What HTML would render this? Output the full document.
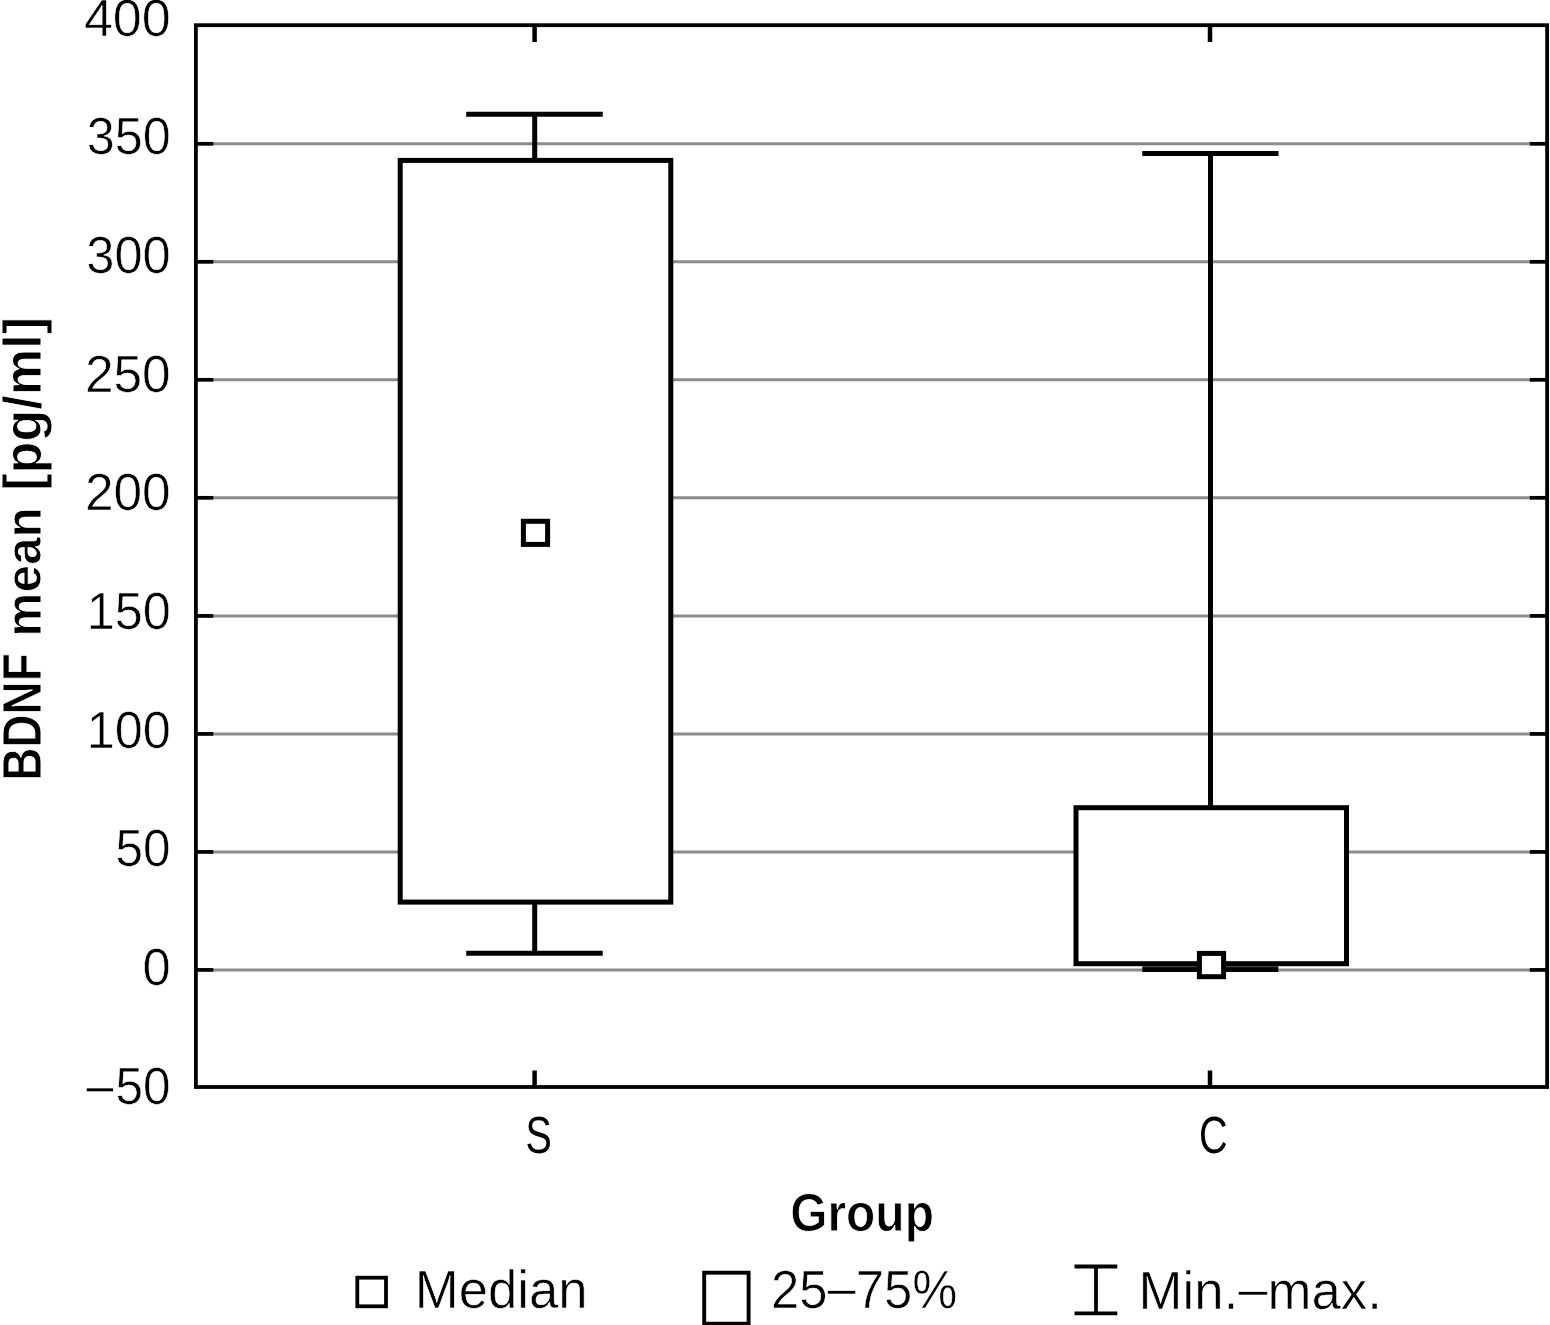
<!DOCTYPE html>
<html>
<head>
<meta charset="utf-8">
<style>
html,body{margin:0;padding:0;background:#fff;}
body{width:1550px;height:1325px;overflow:hidden;}
svg{display:block;}
text{font-family:"Liberation Sans",sans-serif;fill:#000;stroke:#fff;stroke-width:0.6px;}
text.b{font-weight:bold;stroke-width:0.9px;}
text[stroke="none"]{stroke:none;}
</style>
</head>
<body>
<svg width="1550" height="1325" viewBox="0 0 1550 1325">
<rect x="0" y="0" width="1550" height="1325" fill="#fff"/>
<!-- gridlines -->
<g stroke="#8c8c8c" stroke-width="3" fill="none">
<line x1="196" y1="143.8" x2="1547" y2="143.8"/>
<line x1="196" y1="261.8" x2="1547" y2="261.8"/>
<line x1="196" y1="379.8" x2="1547" y2="379.8"/>
<line x1="196" y1="497.8" x2="1547" y2="497.8"/>
<line x1="196" y1="615.9" x2="1547" y2="615.9"/>
<line x1="196" y1="733.9" x2="1547" y2="733.9"/>
<line x1="196" y1="851.9" x2="1547" y2="851.9"/>
<line x1="196" y1="969.9" x2="1547" y2="969.9"/>
</g>
<!-- ticks -->
<g stroke="#000" stroke-width="3.7" fill="none">
<line x1="196" y1="143.8" x2="213.3" y2="143.8"/>
<line x1="196" y1="261.8" x2="213.3" y2="261.8"/>
<line x1="196" y1="379.8" x2="213.3" y2="379.8"/>
<line x1="196" y1="497.8" x2="213.3" y2="497.8"/>
<line x1="196" y1="615.9" x2="213.3" y2="615.9"/>
<line x1="196" y1="733.9" x2="213.3" y2="733.9"/>
<line x1="196" y1="851.9" x2="213.3" y2="851.9"/>
<line x1="196" y1="969.9" x2="213.3" y2="969.9"/>
<line x1="1529.8" y1="143.8" x2="1547" y2="143.8"/>
<line x1="1529.8" y1="261.8" x2="1547" y2="261.8"/>
<line x1="1529.8" y1="379.8" x2="1547" y2="379.8"/>
<line x1="1529.8" y1="497.8" x2="1547" y2="497.8"/>
<line x1="1529.8" y1="615.9" x2="1547" y2="615.9"/>
<line x1="1529.8" y1="733.9" x2="1547" y2="733.9"/>
<line x1="1529.8" y1="851.9" x2="1547" y2="851.9"/>
<line x1="1529.8" y1="969.9" x2="1547" y2="969.9"/>
</g>
<g stroke="#000" stroke-width="4.5" fill="none">
<line x1="534.6" y1="25" x2="534.6" y2="42"/>
<line x1="1210" y1="25" x2="1210" y2="42"/>
<line x1="534.6" y1="1087" x2="534.6" y2="1070.5"/>
<line x1="1210" y1="1087" x2="1210" y2="1070.5"/>
</g>
<!-- S group -->
<g stroke="#000" stroke-width="5" fill="none">
<line x1="534.7" y1="114.3" x2="534.7" y2="160.4"/>
<line x1="466.2" y1="114.3" x2="602.7" y2="114.3"/>
<line x1="534.7" y1="902.1" x2="534.7" y2="953.2"/>
<line x1="466.2" y1="953.2" x2="602.7" y2="953.2"/>
<rect x="400.2" y="160.4" width="270.6" height="741.7" fill="#fff"/>
<rect x="523.4" y="521.3" width="24.2" height="23.1" fill="#fff"/>
</g>
<!-- C group -->
<g stroke="#000" stroke-width="5" fill="none">
<line x1="1210.5" y1="153.5" x2="1210.5" y2="807.7"/>
<line x1="1142.3" y1="153.5" x2="1278.5" y2="153.5"/>
<line x1="1142.3" y1="969.5" x2="1278.3" y2="969.5"/>
<rect x="1076" y="807.7" width="270.5" height="156" fill="#fff"/>
<line x1="1142.3" y1="966.6" x2="1278.3" y2="966.6" stroke="#444" stroke-width="1.2"/>
<rect x="1199.4" y="953.4" width="24.2" height="23.3" fill="#fff"/>
</g>
<!-- frame -->
<rect x="195.9" y="25.2" width="1351.2" height="1061.8" stroke="#000" stroke-width="3.8" fill="none"/>
<!-- y tick labels -->
<text class="r" x="83.91" y="36.30" style="font-size:51.41px" textLength="86.83" lengthAdjust="spacingAndGlyphs">400</text>
<text class="r" x="86.68" y="154.40" style="font-size:51.41px" textLength="83.98" lengthAdjust="spacingAndGlyphs">350</text>
<text class="r" x="86.27" y="273.20" style="font-size:51.69px" textLength="84.40" lengthAdjust="spacingAndGlyphs">300</text>
<text class="r" x="84.91" y="391.69" style="font-size:51.98px" textLength="85.79" lengthAdjust="spacingAndGlyphs">250</text>
<text class="r" x="84.91" y="509.90" style="font-size:51.41px" textLength="85.79" lengthAdjust="spacingAndGlyphs">200</text>
<text class="r" x="86.66" y="629.39" style="font-size:51.98px" textLength="84.00" lengthAdjust="spacingAndGlyphs">150</text>
<text class="r" x="86.66" y="748.00" style="font-size:51.41px" textLength="84.00" lengthAdjust="spacingAndGlyphs">100</text>
<text class="r" x="115.62" y="866.29" style="font-size:51.84px" textLength="55.01" lengthAdjust="spacingAndGlyphs">50</text>
<text class="r" x="142.52" y="984.80" style="font-size:51.41px" textLength="28.16" lengthAdjust="spacingAndGlyphs">0</text>
<text class="r" x="115.62" y="1104.49" style="font-size:51.98px" textLength="55.01" lengthAdjust="spacingAndGlyphs">50</text>
<text class="r" x="83.15" y="1106.72" style="font-size:51.50px" textLength="32.57" lengthAdjust="spacingAndGlyphs">&#8722;</text>
<!-- x tick labels -->
<text class="r" x="525.41" y="1153.39" style="font-size:51.84px" textLength="26.30" lengthAdjust="spacingAndGlyphs" stroke="none">S</text>
<text class="r" x="1198.89" y="1153.39" style="font-size:51.84px" textLength="28.62" lengthAdjust="spacingAndGlyphs" stroke="none">C</text>
<!-- axis titles -->
<text class="b" x="790.13" y="1230.70" style="font-size:53.20px" textLength="143.83" lengthAdjust="spacingAndGlyphs">Group</text>
<text class="b" transform="translate(41.20,0) rotate(-90)" x="-780.87" y="0" style="font-size:55.20px" textLength="127.66" lengthAdjust="spacingAndGlyphs">BDNF</text>
<text class="b" transform="translate(41.20,0) rotate(-90)" x="-636.67" y="0" style="font-size:50.50px" textLength="129.44" lengthAdjust="spacingAndGlyphs">mean</text>
<text class="b" transform="translate(41.20,0) rotate(-90)" x="-490.83" y="0" style="font-size:53.00px" textLength="173.86" lengthAdjust="spacingAndGlyphs">[pg/ml]</text>
<!-- legend -->
<rect x="357.3" y="1277.7" width="28.7" height="28.6" stroke="#000" stroke-width="3.8" fill="none"/>
<rect x="704.2" y="1272.7" width="44.4" height="51" stroke="#000" stroke-width="3.9" fill="none"/>
<g stroke="#000" stroke-width="3.8" fill="none">
<line x1="1074.5" y1="1266.5" x2="1117.3" y2="1266.5"/>
<line x1="1074.5" y1="1313.3" x2="1117.3" y2="1313.3"/>
<line x1="1096" y1="1266.5" x2="1096" y2="1313.3"/>
</g>
<text class="r" x="414.78" y="1308.20" style="font-size:53.60px" textLength="172.85" lengthAdjust="spacingAndGlyphs">Median</text>
<text class="r" x="770.95" y="1308.20" style="font-size:53.00px" textLength="186.36" lengthAdjust="spacingAndGlyphs">25<tspan dy="-1.8">&#8211;</tspan><tspan dy="1.8">75%</tspan></text>
<text class="r" x="1138.57" y="1308.80" style="font-size:54.00px" textLength="243.24" lengthAdjust="spacingAndGlyphs">Min.<tspan dy="-1.5">&#8211;</tspan><tspan dy="1.5">max.</tspan></text>
</svg>
</body>
</html>
